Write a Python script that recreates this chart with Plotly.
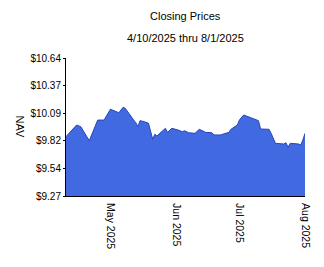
import plotly.graph_objects as go

dates = ["2025-04-10", "2025-04-15", "2025-04-17", "2025-04-21", "2025-04-25", "2025-04-28",
         "2025-05-01", "2025-05-05", "2025-05-07", "2025-05-08", "2025-05-12", "2025-05-13",
         "2025-05-14", "2025-05-15", "2025-05-17", "2025-05-19", "2025-05-21", "2025-05-22",
         "2025-05-23", "2025-05-25", "2025-05-27", "2025-05-28", "2025-05-30", "2025-06-02",
         "2025-06-04", "2025-06-05", "2025-06-07", "2025-06-10", "2025-06-12", "2025-06-15",
         "2025-06-18", "2025-06-19", "2025-06-22", "2025-06-26", "2025-06-27", "2025-06-30",
         "2025-07-01", "2025-07-03", "2025-07-05", "2025-07-09", "2025-07-10", "2025-07-11",
         "2025-07-15", "2025-07-16", "2025-07-18", "2025-07-22", "2025-07-23", "2025-07-24",
         "2025-07-25", "2025-07-29", "2025-07-30", "2025-07-31", "2025-08-01"]
nav = [9.859, 9.975, 9.958, 9.819, 10.024, 10.024,
       10.131, 10.097, 10.151, 10.141, 10.024, 9.998,
       9.958, 10.018, 10.008, 9.992, 9.833, 9.883,
       9.866, 9.908, 9.942, 9.902, 9.942, 9.925,
       9.908, 9.918, 9.898, 9.892, 9.932, 9.902,
       9.898, 9.876, 9.876, 9.902, 9.932, 9.975,
       10.024, 10.074, 10.057, 10.024, 10.018, 9.935,
       9.932, 9.892, 9.793, 9.786, 9.799, 9.753,
       9.793, 9.786, 9.776, 9.826, 9.892]

y_ticks = [9.27, 9.544, 9.818, 10.092, 10.366, 10.64]
y_labels = ["$9.27", "$9.54", "$9.82", "$10.09", "$10.37", "$10.64"]
x_ticks = ["2025-05-01", "2025-06-01", "2025-07-01", "2025-08-01"]
x_labels = ["May 2025", "Jun 2025", "Jul 2025", "Aug 2025"]

font = "Liberation Sans, Arial, sans-serif"

fig = go.Figure(go.Scatter(
    x=dates, y=nav, mode="lines", fill="tozeroy",
    fillcolor="#4169E1", line=dict(color="#2446b8", width=1)))

ph = 267 - 58 - 71
pw = 324 - 66 - 17

fig.update_layout(
    width=324, height=267,
    margin=dict(l=66, r=17, t=58, b=71),
    paper_bgcolor="white", plot_bgcolor="white",
    showlegend=False,
    font=dict(family=font, size=10, color="black"),
    xaxis=dict(range=["2025-04-10", "2025-08-01"], tickvals=x_ticks, ticktext=x_labels,
               tickangle=90, showgrid=False, zeroline=False, showline=True,
               linecolor="black", linewidth=1, ticks="outside", ticklen=4,
               tickcolor="rgba(0,0,0,0)", tickfont=dict(size=10.5)),
    yaxis=dict(range=[9.27, 10.64], tickvals=y_ticks, ticktext=y_labels,
               showgrid=False, zeroline=False, showline=True, linecolor="black",
               linewidth=1, ticks="outside", ticklen=2, tickcolor="black",
               tickfont=dict(size=10)),
    annotations=[
        dict(text="Closing Prices", x=0.5, y=(267 - 71 - 16) / ph, xref="paper", yref="paper",
             yanchor="middle", showarrow=False, font=dict(size=11)),
        dict(text="4/10/2025 thru 8/1/2025", x=0.5, y=(267 - 71 - 38) / ph, xref="paper",
             yref="paper", yanchor="middle", showarrow=False, font=dict(size=11)),
        dict(text="NAV", xref="paper", yref="paper", x=(20 - 66) / pw, y=(267 - 71 - 127) / ph,
             xanchor="center", yanchor="middle", textangle=90, showarrow=False,
             font=dict(size=11)),
    ],
)

fig.write_html("out.html")
